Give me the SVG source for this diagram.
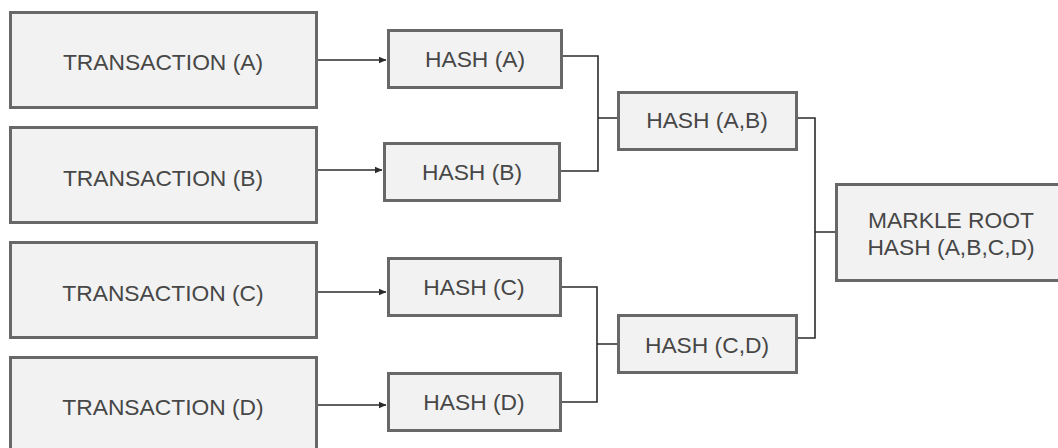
<svg xmlns="http://www.w3.org/2000/svg" width="1058" height="448" viewBox="0 0 1058 448">
  <style>
    .box { fill: #f2f2f2; stroke: #686868; stroke-width: 3; }
    .lbl { font-family: "Liberation Sans", Arial, sans-serif; font-size: 22.8px; fill: #474747; text-anchor: middle; }
    .wire { fill: none; stroke: #2b2b2b; stroke-width: 1.6; }
  </style>
  <defs>
    <marker id="arrow" markerWidth="8" markerHeight="8" refX="7" refY="4" orient="auto" markerUnits="userSpaceOnUse">
      <path d="M0,0.8 L7.5,4 L0,7.2 Z" fill="#2b2b2b"/>
    </marker>
  </defs>
  <rect width="1058" height="448" fill="#ffffff"/>

  <!-- transactions -->
  <g id="tx-a"><rect class="box" x="10.5" y="12.5" width="306" height="95"/><text class="lbl" x="163" y="70">TRANSACTION (A)</text></g>
  <g id="tx-b"><rect class="box" x="10.5" y="127.5" width="306" height="95"/><text class="lbl" x="163" y="186">TRANSACTION (B)</text></g>
  <g id="tx-c"><rect class="box" x="10.5" y="242.5" width="306" height="95"/><text class="lbl" x="163" y="301">TRANSACTION (C)</text></g>
  <g id="tx-d"><rect class="box" x="10.5" y="357.5" width="306" height="100"/><text class="lbl" x="163" y="415">TRANSACTION (D)</text></g>

  <!-- leaf hashes -->
  <g id="hash-a"><rect class="box" x="388.5" y="30.5" width="173" height="57"/><text class="lbl" x="475" y="67">HASH (A)</text></g>
  <g id="hash-b"><rect class="box" x="384.5" y="143.5" width="175" height="57"/><text class="lbl" x="472" y="180">HASH (B)</text></g>
  <g id="hash-c"><rect class="box" x="388.5" y="258.5" width="172" height="57"/><text class="lbl" x="474" y="295">HASH (C)</text></g>
  <g id="hash-d"><rect class="box" x="388.5" y="373.5" width="172" height="57"/><text class="lbl" x="474" y="410">HASH (D)</text></g>

  <!-- intermediate hashes -->
  <g id="hash-ab"><rect class="box" x="618.5" y="92.5" width="178" height="57"/><text class="lbl" x="707" y="128">HASH (A,B)</text></g>
  <g id="hash-cd"><rect class="box" x="618.5" y="315.5" width="178" height="57"/><text class="lbl" x="707" y="353">HASH (C,D)</text></g>

  <!-- root -->
  <g id="root"><rect class="box" x="836.5" y="184.5" width="240" height="96"/>
    <text class="lbl" x="951" y="228">MARKLE ROOT</text>
    <text class="lbl" x="951" y="255">HASH (A,B,C,D)</text>
  </g>

  <!-- connectors -->
  <g id="connectors">
    <path class="wire" d="M318 60 H386" marker-end="url(#arrow)"/>
    <path class="wire" d="M318 170 H382" marker-end="url(#arrow)"/>
    <path class="wire" d="M318 292 H386" marker-end="url(#arrow)"/>
    <path class="wire" d="M318 405 H386" marker-end="url(#arrow)"/>
    <path class="wire" d="M563 56 H598 V171 H561 M598 118 H617"/>
    <path class="wire" d="M562 287 H597 V402 H562 M597 344 H617"/>
    <path class="wire" d="M798 118 H815 V338 H798 M815 232 H835"/>
  </g>
</svg>
